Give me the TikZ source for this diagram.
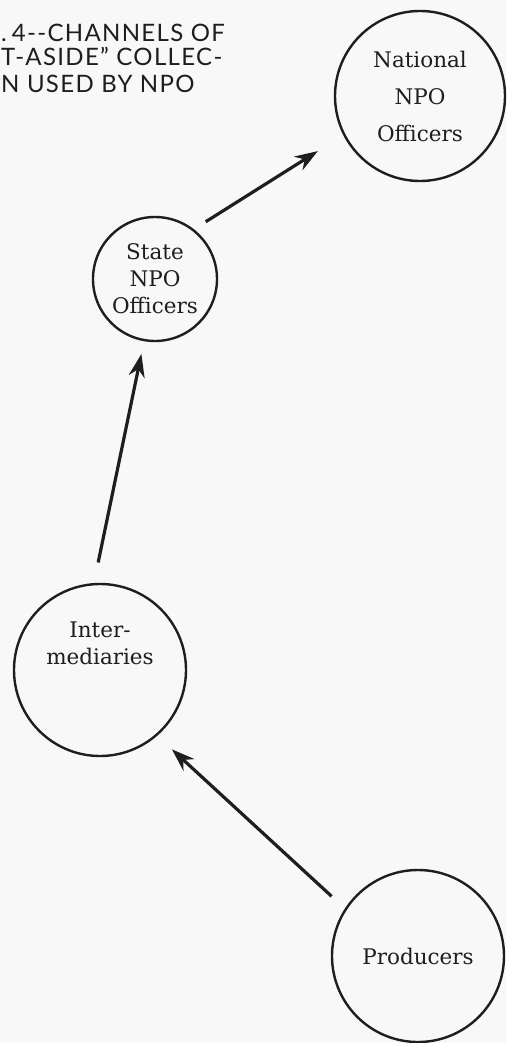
\documentclass[tikz,border=0pt]{standalone}
\usepackage{fontspec}
\setmainfont{DejaVu Serif}
\newfontfamily\titlefont[LetterSpace=5.5]{Lato}
\usetikzlibrary{arrows.meta}
\definecolor{ink}{RGB}{30,30,30}
\definecolor{paper}{RGB}{248,248,248}

\begin{document}
\begin{tikzpicture}[x=1pt,y=-1pt,
  office/.style={circle, draw=ink, line width=2.4pt, inner sep=0pt, align=center,
    text=ink, font=\fontsize{21.5}{27}\selectfont},
  flow/.style={draw=ink, line width=3.2pt, -{Stealth[length=23pt,width=16pt]}},
  heading/.style={anchor=base west, inner sep=0pt, text=ink,
    font=\titlefont\fontsize{24}{24}\selectfont}]
\fill[paper] (0,0) rectangle (506,1043);
\useasboundingbox (0,0) rectangle (506,1043);

% title
\node[heading] (title1) at (1,42) {.\hspace{5pt}4{-}{-}CHANNELS OF};
\node[heading] (title2) at (1,66) {T-ASIDE” COLLEC-};
\node[heading] (title3) at (1,93) {N USED BY NPO};

% offices
\node[office, minimum size=170pt, font=\fontsize{21.5}{37}\selectfont] (national) at (420,96) {National\\NPO\\Officers};
\node[office, minimum size=124pt] (state) at (155,279) {State\\NPO\\Officers};
\node[office, minimum size=172pt] (inter) at (100,670) {};
\node[align=center, text=ink, font=\fontsize{21.5}{27}\selectfont] (intertext) at (100,643) {Inter-\\mediaries};
\node[office, minimum size=172pt] (producers) at (418,956) {Producers};

% channels
\draw[flow, shorten <=14pt, shorten >=30pt] (state.52) -- (national.207);
\draw[flow, shorten <=21pt, shorten >=13pt] (inter.94) -- (state.260);
\draw[flow, shorten <=18pt, shorten >=20pt] (producers.147) -- (inter.311);
\end{tikzpicture}
\end{document}
